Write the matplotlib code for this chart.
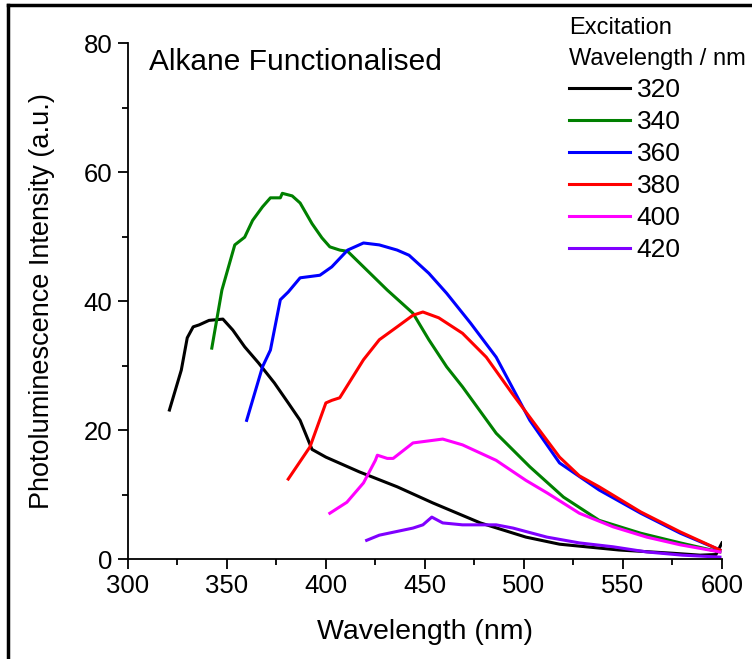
import matplotlib
matplotlib.use("Agg")
import matplotlib.pyplot as plt
from matplotlib.lines import Line2D
from matplotlib.ticker import MultipleLocator

plt.rcParams['font.family'] = ['Liberation Sans', 'DejaVu Sans']

# Emission spectra (wavelength nm, intensity a.u.)
wl_320 = [321, 327, 330, 333, 336, 341, 348, 353, 359, 366, 374, 381, 387, 393, 400,
          417, 436, 454, 478, 501, 518, 548, 575, 589, 597, 600]
pl_320 = [23.1, 29.3, 34.3, 36.0, 36.3, 37.0, 37.2, 35.5, 32.9, 30.4, 27.3, 24.2, 21.5, 17.0, 15.8,
          13.5, 11.2, 8.7, 5.6, 3.4, 2.3, 1.4, 0.9, 0.6, 0.7, 2.5]

wl_340 = [342.4, 347.5, 354, 359, 363, 368, 372, 377, 378, 383, 387, 393, 398, 402, 407,
          411, 419, 431, 444, 452, 461, 469, 486, 503, 520, 538, 559, 579, 599]
pl_340 = [32.7, 41.7, 48.7, 49.9, 52.5, 54.6, 56.0, 56.0, 56.7, 56.3, 55.2, 52.0, 49.8, 48.4, 47.9,
          47.7, 45.3, 41.7, 38.1, 34.0, 29.8, 26.7, 19.5, 14.3, 9.6, 6.0, 4.0, 2.5, 1.1]

wl_360 = [360, 368, 372, 377, 381, 387, 397, 403, 411, 419, 427, 436, 442, 452, 461,
          473, 486, 503, 518, 538, 559, 579, 599]
pl_360 = [21.5, 29.8, 32.4, 40.2, 41.4, 43.6, 44.0, 45.3, 47.9, 49.0, 48.7, 47.9, 47.1, 44.3, 41.2,
          36.6, 31.3, 21.5, 14.9, 10.7, 7.1, 4.0, 1.4]

wl_380 = [381, 392, 400, 403, 407, 419, 427, 436, 444, 449, 457, 469, 481, 494, 509,
          518, 528, 538, 559, 579, 599]
pl_380 = [12.4, 17.4, 24.2, 24.6, 25.0, 30.9, 34.0, 36.0, 37.8, 38.3, 37.4, 35.0, 31.3, 25.7, 19.5,
          15.8, 12.9, 11.2, 7.3, 4.2, 1.4]

wl_400 = [402, 410.6, 419, 425, 426, 431, 434, 444, 454, 459, 469, 486, 501, 512, 528,
          545, 562, 579, 599]
pl_400 = [7.1, 8.8, 11.8, 15.3, 16.1, 15.6, 15.6, 18.0, 18.4, 18.6, 17.7, 15.3, 12.2, 10.2, 7.1,
          5.0, 3.4, 2.2, 1.1]

wl_420 = [420.6, 427, 444, 449, 453.5, 459, 469, 486, 494.5, 511.6, 528, 545, 562, 580, 599]
pl_420 = [2.9, 3.7, 4.8, 5.3, 6.5, 5.6, 5.3, 5.3, 4.8, 3.4, 2.5, 1.9, 1.1, 0.6, 0.3]

series = [("320", wl_320, pl_320, "black"),
          ("340", wl_340, pl_340, "#008000"),
          ("360", wl_360, pl_360, "#0000ff"),
          ("380", wl_380, pl_380, "#ff0000"),
          ("400", wl_400, pl_400, "#ff00ff"),
          ("420", wl_420, pl_420, "#8000ff")]

fig = plt.figure(figsize=(7.52, 6.59), dpi=100)
ax = fig.add_axes([0.170, 0.1517, 0.790, 0.783])

for label, x, y, c in series:
    ax.plot(x, y, color=c, lw=2.2, label=label)

ax.set_xlim(300, 600)
ax.set_ylim(0, 80)
ax.xaxis.set_major_locator(MultipleLocator(50))
ax.xaxis.set_minor_locator(MultipleLocator(25))
ax.yaxis.set_major_locator(MultipleLocator(20))
ax.yaxis.set_minor_locator(MultipleLocator(10))
ax.tick_params(which="major", direction="out", length=7, width=1.3, labelsize=18.5, pad=4)
ax.tick_params(which="minor", direction="out", length=4, width=1.3)

for s in ["top", "right"]:
    ax.spines[s].set_visible(False)
for s in ["left", "bottom"]:
    ax.spines[s].set_linewidth(1.3)

ax.set_xlabel("Wavelength (nm)", fontsize=20.5, labelpad=15)
ax.set_ylabel("Photoluminescence Intensity (a.u.)", fontsize=19.5, labelpad=21)
ax.text(0.035, 0.99, "Alkane Functionalised", transform=ax.transAxes, fontsize=21.5,
        ha="left", va="top")

leg = ax.legend(loc="upper left", bbox_to_anchor=(0.757, 0.974), bbox_transform=fig.transFigure,
                frameon=False, fontsize=19, title="Excitation\nWavelength / nm", title_fontsize=17,
                handlelength=2.3, handletextpad=0.25, labelspacing=0.3, borderaxespad=0, borderpad=0)
leg._legend_box.align = "left"
leg.get_title().set_linespacing(1.55)

# black frame on top and left edge of the figure
fig.add_artist(Line2D([0.011, 0.011], [0, 0.992], transform=fig.transFigure, color="black", lw=2.5))
fig.add_artist(Line2D([0.011, 1.0], [0.992, 0.992], transform=fig.transFigure, color="black", lw=2.5))

fig.savefig("out.png", dpi=100)
